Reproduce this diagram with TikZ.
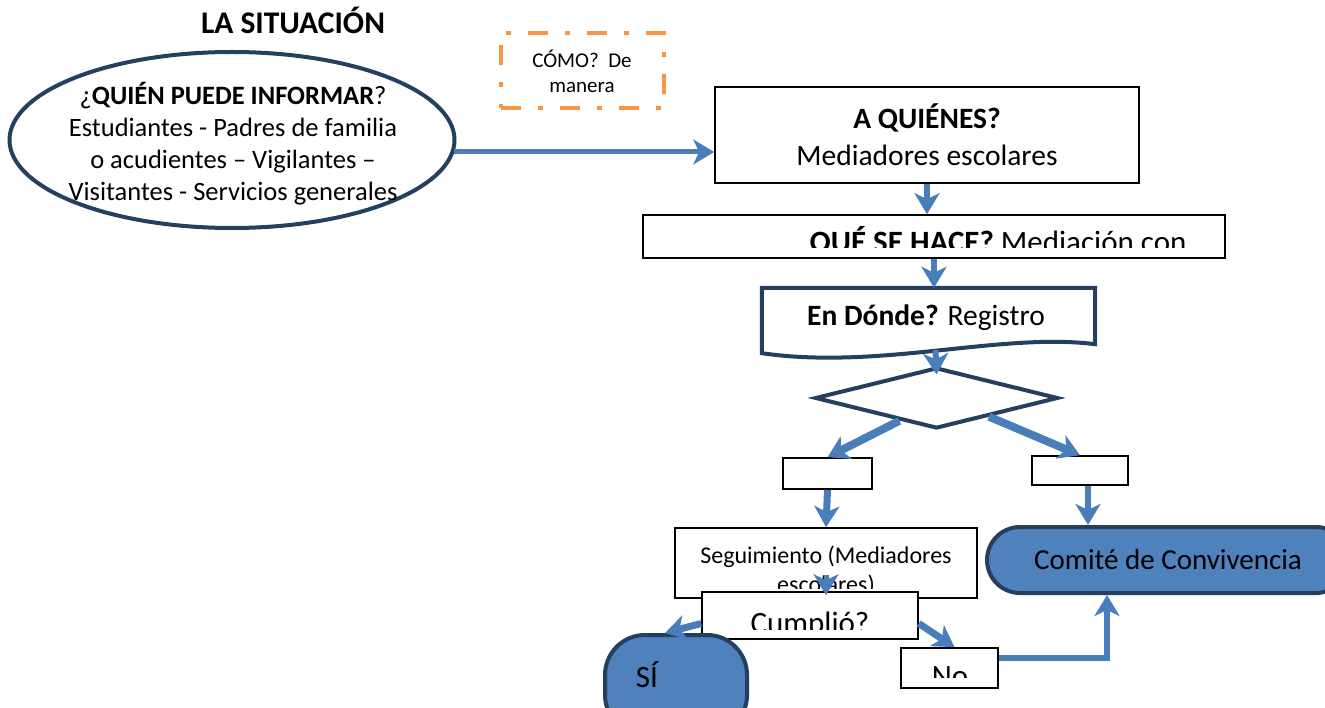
\documentclass[tikz,border=0pt]{standalone}
\usepackage{fontspec}
\setmainfont{Carlito}
\usepackage{tikz}
\usetikzlibrary{shapes.geometric, shapes.misc, arrows.meta, calc}
\definecolor{flowBlue}{HTML}{4A7EBB}
\definecolor{flowNavy}{HTML}{243F60}
\definecolor{flowFill}{HTML}{4F81BD}
\definecolor{flowOrange}{HTML}{F79646}

\begin{document}
\begin{tikzpicture}[x=1pt, y=-1pt,
    plainBox/.style={rectangle, draw=black, line width=1.6pt, fill=white, inner sep=0pt},
    navyLine/.style={draw=flowNavy, line width=4pt},
    endBox/.style={draw=flowNavy, line width=4pt, fill=flowFill, inner sep=0pt},
    bigText/.style={font=\fontsize{29.5}{37}\selectfont, align=center},
    clipText/.style={font=\fontsize{31}{37}\selectfont, anchor=base, inner sep=0pt},
    arrow/.style={line width=6pt, -{Stealth[length=21pt, width=25pt, inset=6pt]}, color=flowBlue},
    thickArrow/.style={arrow, line width=8pt}
]
    \useasboundingbox (0,0) rectangle (1325,708);
    \clip (0,0) rectangle (1325,708);

    % title
    \node[font=\fontsize{31.5}{36}\selectfont\bfseries, anchor=base, inner sep=0pt] (title) at (293,34) {LA SITUACIÓN};

    % who reports
    \node[ellipse, navyLine, fill=white, minimum width=445pt, minimum height=176pt] (who) at (232,140) {};
    \node[font=\fontsize{26.5}{32}\selectfont, align=center, inner sep=0pt] (whoText) at (233,144)
        {¿\textbf{QUIÉN PUEDE INFORMAR}?\\Estudiantes - Padres de familia\\o acudientes – Vigilantes –\\Visitantes - Servicios generales};

    % how
    \node[rectangle, draw=flowOrange, line width=4pt, dash pattern=on 20pt off 17pt on 5pt off 17pt,
          minimum width=163pt, minimum height=75pt, font=\fontsize{21}{25}\selectfont, align=center] (como) at (582,71)
        {CÓMO?\ \ De\\manera};

    % flow boxes
    \node[plainBox, bigText, minimum width=424pt, minimum height=96pt] (quien) at (927,135)
        {\textbf{A QUIÉNES?}\\Mediadores escolares};
    \node[plainBox, minimum width=582pt, minimum height=43pt] (que) at (934,236.5) {};
    \begin{scope}
        \clip (que.north west) rectangle ([yshift=11pt]que.south east);
        \node[clipText] (queText) at (998,253) {\textbf{QUÉ SE HACE?} Mediación con};
    \end{scope}

    \node[rectangle, minimum width=333pt, minimum height=60pt, inner sep=0pt] (donde) at (928.5,318) {};
    \draw[navyLine, fill=white] ([yshift=-5pt]donde.south west) -- (donde.north west) -- (donde.north east)
        -- ([yshift=4pt]donde.south east)
        .. controls ([xshift=-95pt,yshift=16pt]donde.south east) and ([xshift=118pt,yshift=-22pt]donde.south west)
        .. ([yshift=-5pt]donde.south west) -- cycle;
    \node[bigText, inner sep=0pt] (dondeText) at (926,318) {\textbf{En Dónde?} Registro};

    \node[diamond, navyLine, fill=white, minimum width=243pt, minimum height=61pt, inner sep=0pt] (choice) at (936.5,398) {};

    \node[plainBox, minimum width=89pt, minimum height=31pt] (siTop) at (827.5,473.5) {};
    \node[plainBox, minimum width=96pt, minimum height=29pt] (noTop) at (1080,470.5) {};

    \node[plainBox, minimum width=302pt, minimum height=70pt] (segui) at (826,563) {};
    \begin{scope}
        \clip (segui.north west) rectangle ([yshift=10pt]segui.south east);
        \node[clipText, font=\fontsize{24}{29}\selectfont] (seguiText) at (826,563) {Seguimiento (Mediadores};
        \node[clipText, font=\fontsize{24}{29}\selectfont] (seguiMore) at (826,592) {escolares)};
    \end{scope}

    \node[plainBox, minimum width=216pt, minimum height=47pt] (cumplio) at (810,615.5) {};
    \begin{scope}
        \clip (cumplio.north west) rectangle ([yshift=10pt]cumplio.south east);
        \node[clipText] (cumplioText) at (810,633) {Cumplió?};
    \end{scope}

    \node[plainBox, minimum width=97pt, minimum height=40pt] (noEnd) at (949.5,668) {};
    \begin{scope}
        \clip (noEnd.north west) rectangle ([yshift=11pt]noEnd.south east);
        \node[clipText] (noText) at (950,686) {No};
    \end{scope}

    % ends
    \node[endBox, rectangle, rounded corners=40pt, minimum width=142pt, minimum height=100pt] (siEnd) at (676,685) {};
    \node[clipText] (siText) at (647,687) {SÍ};
    \node[endBox, rounded rectangle, minimum width=362pt, minimum height=66pt,
          font=\fontsize{29}{35}\selectfont] (comite) at (1168,560) {Comité de Convivencia};

    % connectors
    \draw[arrow, line width=5pt] ([xshift=-3pt,yshift=-12pt]who.east) -- ([yshift=-17pt]quien.west);
    \draw[arrow] (quien.south) -- (quien.south |- que.north);
    \draw[arrow] (que.south) -- (que.south |- donde.north);
    \draw[arrow] ([xshift=7pt,yshift=-2pt]donde.south) -- ([yshift=-9pt]choice.north);
    \draw[thickArrow] ($(choice.south west)!0.4!(choice.south)$) -- (siTop.north);
    \draw[thickArrow] ($(choice.south east)!0.15!(choice.south)$) -- (noTop.north);
    \draw[arrow, line width=7pt] (siTop.south) -- (segui.north);
    \draw[arrow] ([xshift=8pt]noTop.south) -- ([xshift=8pt]noTop.south |- comite.north);
    \draw[arrow, line width=5pt] ([yshift=-12pt]segui.center) -- ([yshift=-4pt]segui.center |- cumplio.north);
    \draw[arrow, line width=7pt] ([yshift=-8pt]cumplio.west) -- ([xshift=-11pt]siEnd.north);
    \draw[arrow, line width=7pt] ([yshift=-8pt]cumplio.east) -- ([xshift=5pt]noEnd.north);
    \draw[arrow] ([yshift=10pt]noEnd.east) -| ([xshift=-61pt]comite.south);
\end{tikzpicture}
\end{document}
